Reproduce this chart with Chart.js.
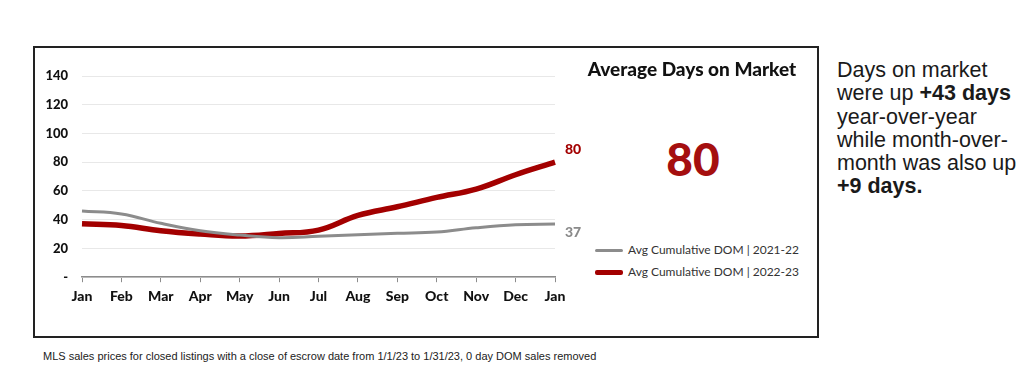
<!DOCTYPE html>
<html>
<head>
<meta charset="utf-8">
<script src="https://cdn.jsdelivr.net/npm/chart.js@4.4.0/dist/chart.umd.min.js"></script>
<style>
  body { margin: 0; background: #fff; width: 1024px; height: 376px; position: relative; overflow: hidden; }
  #box { position: absolute; left: 33px; top: 46px; width: 782px; height: 288px; border: 2px solid #222; }
  #chart { position: absolute; left: 35px; top: 48px; }
  .cal { font-family: Lato, "Open Sans", sans-serif; }
  #title { position: absolute; left: 572px; top: 57px; width: 240px; text-align: center; font-weight: 900; font-size: 19px; color: #111; }
  #big { position: absolute; left: 620px; top: 133px; width: 146px; text-align: center; font-weight: 900; font-size: 46px; line-height: 52px; color: #a50f0f; }
  .leg { position: absolute; left: 595px; font-size: 12px; color: #333; white-space: nowrap; }
  .leg span { display: inline-block; width: 28px; vertical-align: middle; margin-right: 5px; border-radius: 2px; }
  #side { position: absolute; left: 837px; top: 59px; font-family: "Liberation Sans", Arial, sans-serif; font-size: 21.5px; line-height: 23.3px; color: #1a1a1a; }
  #note { position: absolute; left: 43px; top: 350px; font-family: "Liberation Sans", Arial, sans-serif; font-size: 11px; color: #222; }
</style>
</head>
<body>
<div id="box"></div>
<canvas id="chart" width="560" height="288"></canvas>
<div id="title" class="cal">Average Days on Market</div>
<div id="big" class="cal">80</div>
<div class="leg cal" style="top:242px"><span style="height:3px;background:#8c8c8c"></span>Avg Cumulative DOM | 2021-22</div>
<div class="leg cal" style="top:264px"><span style="height:5px;background:#a30000"></span>Avg Cumulative DOM | 2022-23</div>
<div id="side">Days on market<br>were up <b>+43 days</b><br>year-over-year<br>while month-over-<br>month was also up<br><b>+9 days.</b></div>
<div id="note">MLS sales prices for closed listings with a close of escrow date from 1/1/23 to 1/31/23, 0 day DOM sales removed</div>
<script>
const months = ['Jan', 'Feb', 'Mar', 'Apr', 'May', 'Jun', 'Jul', 'Aug', 'Sep', 'Oct', 'Nov', 'Dec', 'Jan'];
const dom2122 = [46, 44, 37.5, 32.3, 29.3, 27.5, 28.5, 29.6, 30.5, 31.4, 34.4, 36.5, 37];
const dom2223 = [37.2, 36, 32.3, 30, 28.6, 30.4, 32.8, 43, 49, 55.5, 61.3, 71.3, 80];
const yTicks = [0, 20, 40, 60, 80, 100, 120, 140];

// value label at the end of each line
const endLabels = {
  id: 'endLabels',
  afterDatasetsDraw(chart) {
    const ctx = chart.ctx;
    chart.data.datasets.forEach((ds, i) => {
      const meta = chart.getDatasetMeta(i);
      const pt = meta.data[meta.data.length - 1];
      const val = ds.data[ds.data.length - 1];
      ctx.save();
      ctx.font = '900 14px Lato, "Open Sans", sans-serif';
      ctx.fillStyle = ds.labelColor;
      ctx.textBaseline = 'middle';
      ctx.fillText(String(val), pt.x + 10, pt.y + ds.labelOffset);
      ctx.restore();
    });
  }
};

new Chart(document.getElementById('chart'), {
  type: 'line',
  data: {
    labels: months,
    datasets: [
      {
        label: 'Avg Cumulative DOM | 2021-22',
        data: dom2122,
        borderColor: '#8c8c8c',
        borderWidth: 3,
        pointRadius: 0,
        tension: 0.4,
        labelColor: '#8a8a8a',
        labelOffset: 8
      },
      {
        label: 'Avg Cumulative DOM | 2022-23',
        data: dom2223,
        borderColor: '#a30000',
        borderWidth: 5.5,
        pointRadius: 0,
        tension: 0.4,
        labelColor: '#a30000',
        labelOffset: -13
      }
    ]
  },
  options: {
    responsive: false,
    animation: false,
    layout: { padding: { left: 0, right: 40, top: 28, bottom: 25 } },
    plugins: { legend: { display: false }, tooltip: { enabled: false } },
    scales: {
      x: {
        grid: { display: true, drawOnChartArea: false, drawTicks: true, tickLength: 5, color: '#8c8c8c' },
        border: { display: true, color: '#8c8c8c', width: 1.5 },
        ticks: { color: '#111', padding: 6, font: { family: 'Lato, "Open Sans", sans-serif', weight: '900', size: 14 } }
      },
      y: {
        min: 0,
        max: 140,
        afterFit(scale) { scale.width = 47; },
        afterBuildTicks(scale) { scale.ticks = yTicks.map(v => ({ value: v })); },
        grid: { color: '#e8e8e8', drawTicks: false },
        border: { display: false },
        ticks: {
          color: '#111',
          padding: 14,
          font: { family: 'Lato, "Open Sans", sans-serif', weight: '900', size: 13 },
          callback: v => (v === 0 ? '-' : v)
        }
      }
    }
  },
  plugins: [endLabels]
});
</script>
</body>
</html>
